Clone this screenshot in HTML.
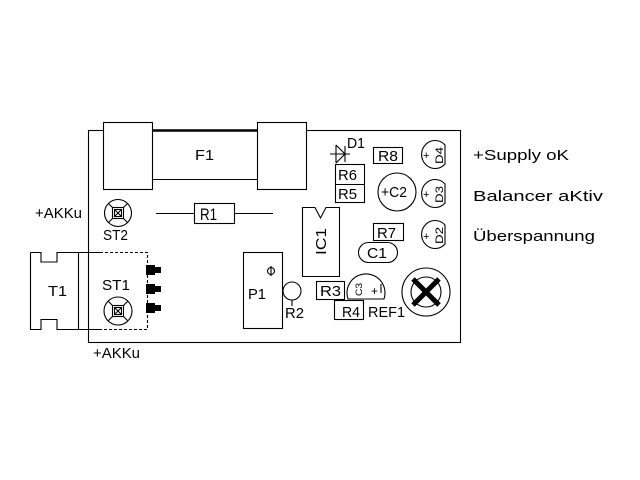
<!DOCTYPE html>
<html><head><meta charset="utf-8"><style>
html,body{margin:0;padding:0;background:#fff;}
svg{display:block;}
text{font-family:"Liberation Sans",sans-serif;fill:#000;}
</style></head><body>
<svg width="640" height="480" viewBox="0 0 640 480" xmlns="http://www.w3.org/2000/svg">
<rect x="0" y="0" width="640" height="480" fill="#fff"/>
<g fill="none" stroke="#000" stroke-width="1.1">
  <!-- board -->
  <rect x="88.5" y="130.5" width="372" height="212"/>
  <!-- fuse -->
  <line x1="152" y1="130.5" x2="257" y2="130.5" stroke-width="2.5"/>
  <line x1="152" y1="179.5" x2="257" y2="179.5"/>
  <rect x="103.5" y="122.5" width="49" height="67" fill="#fff"/>
  <rect x="257.5" y="122.5" width="49" height="67" fill="#fff"/>
  <!-- R1 -->
  <line x1="156" y1="213.5" x2="194" y2="213.5"/>
  <line x1="234" y1="213.5" x2="273" y2="213.5"/>
  <rect x="194.5" y="203.5" width="40" height="20"/>
  <!-- ST2 -->
  <circle cx="118" cy="213" r="13.5"/>
  <line x1="108.5" y1="203.5" x2="127.5" y2="222.5"/>
  <line x1="127.5" y1="203.5" x2="108.5" y2="222.5"/>
  <rect x="112.5" y="207.5" width="11" height="11" fill="#fff"/>
  <rect x="114.5" y="209.5" width="7" height="7"/>
  <line x1="114.5" y1="209.5" x2="121.5" y2="216.5"/>
  <line x1="121.5" y1="209.5" x2="114.5" y2="216.5"/>
  <!-- T1 -->
  <path d="M30.5,252.5 H41 V262 H57 V252.5 H100 M30.5,252.5 V329.5 H41 V319.5 H57 V329.5 H100"/>
  <line x1="78.5" y1="252.5" x2="78.5" y2="329.5"/>
  <path d="M100,252.5 H147.5 V329.5 H100" stroke-dasharray="3,2"/>
  <!-- ST1 -->
  <circle cx="118" cy="311" r="14"/>
  <line x1="108" y1="301" x2="128" y2="321"/>
  <line x1="128" y1="301" x2="108" y2="321"/>
  <rect x="112.5" y="305.5" width="11" height="11" fill="#fff"/>
  <rect x="114.5" y="307.5" width="7" height="7"/>
  <line x1="114.5" y1="307.5" x2="121.5" y2="314.5"/>
  <line x1="121.5" y1="307.5" x2="114.5" y2="314.5"/>
  <!-- P1 -->
  <rect x="243.5" y="252.5" width="39" height="76"/>
  <circle cx="271" cy="271" r="3.5"/>
  <line x1="271" y1="266" x2="271" y2="276"/>
  <!-- R2 -->
  <circle cx="292" cy="291" r="9"/>
  <line x1="292" y1="300" x2="292" y2="306"/>
  <!-- IC1 -->
  <path d="M302.5,207.5 H315 L320.5,218 L326,207.5 H339.5 V276.5 H302.5 Z"/>
  <!-- R3 R4 -->
  <rect x="316.5" y="281.5" width="28" height="18"/>
  <rect x="334.5" y="300.5" width="29" height="19"/>
  <!-- REF cap -->
  <path d="M348,299 A19 19 0 1 1 384,299 Z"/>
  <line x1="381" y1="284" x2="381" y2="293"/>
  <!-- big trimmer -->
  <circle cx="426" cy="292" r="24"/>
  <circle cx="426" cy="292" r="15"/>
  <line x1="413" y1="279" x2="439" y2="305" stroke-width="5"/>
  <line x1="439" y1="279" x2="413" y2="305" stroke-width="5"/>
  <!-- C1 -->
  <rect x="358.5" y="242.5" width="39" height="20" rx="10" ry="10"/>
  <!-- R7 -->
  <rect x="373.5" y="223.5" width="30" height="17"/>
  <!-- D1 -->
  <line x1="330" y1="154" x2="350" y2="154"/>
  <line x1="336" y1="145" x2="336" y2="163"/>
  <path d="M336,145 L345,154 L336,163"/>
  <line x1="345" y1="146" x2="345" y2="162"/>
  <!-- R6 R5 -->
  <rect x="335.5" y="164.5" width="29" height="38"/>
  <line x1="335.5" y1="184.5" x2="364.5" y2="184.5"/>
  <!-- R8 -->
  <rect x="373.5" y="147.5" width="29" height="16"/>
  <!-- C2 -->
  <circle cx="397" cy="192" r="19"/>
  <!-- LEDs -->
  <path d="M445,145 A13.5 14 0 1 0 445,164 Z"/>
  <path d="M445,184 A13.5 14 0 1 0 445,203 Z"/>
  <path d="M445,225 A13.5 14 0 1 0 445,244 Z"/>
</g>
<!-- pins -->
<g fill="#000">
  <rect x="146" y="265" width="9" height="10"/><rect x="155" y="267" width="6" height="6"/>
  <rect x="146" y="284" width="9" height="10"/><rect x="155" y="286" width="6" height="6"/>
  <rect x="146" y="303" width="9" height="10"/><rect x="155" y="305" width="6" height="6"/>
</g>
<!-- labels -->
<g font-size="15">
  <text x="195" y="160" textLength="19" lengthAdjust="spacingAndGlyphs">F1</text>
  <text x="200" y="220" textLength="17" lengthAdjust="spacingAndGlyphs" font-size="17">R1</text>
  <text x="35" y="218" textLength="47" lengthAdjust="spacingAndGlyphs">+AKKu</text>
  <text x="103" y="240" textLength="25" lengthAdjust="spacingAndGlyphs">ST2</text>
  <text x="102" y="290" textLength="28" lengthAdjust="spacingAndGlyphs">ST1</text>
  <text x="48" y="296" textLength="19" lengthAdjust="spacingAndGlyphs">T1</text>
  <text x="93" y="358" textLength="47" lengthAdjust="spacingAndGlyphs">+AKKu</text>
  <text x="248" y="299" textLength="18" lengthAdjust="spacingAndGlyphs">P1</text>
  <text x="285" y="318" textLength="19" lengthAdjust="spacingAndGlyphs">R2</text>
  <text x="320" y="296" textLength="21" lengthAdjust="spacingAndGlyphs">R3</text>
  <text x="342" y="317" textLength="18" lengthAdjust="spacingAndGlyphs">R4</text>
  <text x="368" y="317" textLength="37" lengthAdjust="spacingAndGlyphs">REF1</text>
  <text x="367" y="258" textLength="20" lengthAdjust="spacingAndGlyphs">C1</text>
  <text x="377" y="238" textLength="19" lengthAdjust="spacingAndGlyphs">R7</text>
  <text x="378" y="161" textLength="20" lengthAdjust="spacingAndGlyphs">R8</text>
  <text x="338" y="180" textLength="19" lengthAdjust="spacingAndGlyphs">R6</text>
  <text x="338" y="199" textLength="19" lengthAdjust="spacingAndGlyphs">R5</text>
  <text x="347" y="148" textLength="18" lengthAdjust="spacingAndGlyphs">D1</text>
  <text x="381" y="197" textLength="26" lengthAdjust="spacingAndGlyphs">+C2</text>
  <text x="371" y="295" font-size="12">+</text>
  <text transform="translate(326,255) rotate(-90)" textLength="27" lengthAdjust="spacingAndGlyphs">IC1</text>
  <text transform="translate(362,296) rotate(-90)" font-size="9" textLength="13" lengthAdjust="spacingAndGlyphs">C3</text>
  <text x="423" y="159" font-size="11">+</text>
  <text transform="translate(443,164) rotate(-90)" font-size="11" textLength="17" lengthAdjust="spacingAndGlyphs">D4</text>
  <text x="423" y="198" font-size="11">+</text>
  <text transform="translate(443,203) rotate(-90)" font-size="11" textLength="17" lengthAdjust="spacingAndGlyphs">D3</text>
  <text x="423" y="240" font-size="11">+</text>
  <text transform="translate(443,244) rotate(-90)" font-size="11" textLength="17" lengthAdjust="spacingAndGlyphs">D2</text>
  <text x="473" y="160" textLength="96" lengthAdjust="spacingAndGlyphs">+Supply oK</text>
  <text x="473" y="201" textLength="130" lengthAdjust="spacingAndGlyphs">Balancer aKtiv</text>
  <text x="473" y="241" textLength="122" lengthAdjust="spacingAndGlyphs">Überspannung</text>
</g>
</svg>
</body></html>
